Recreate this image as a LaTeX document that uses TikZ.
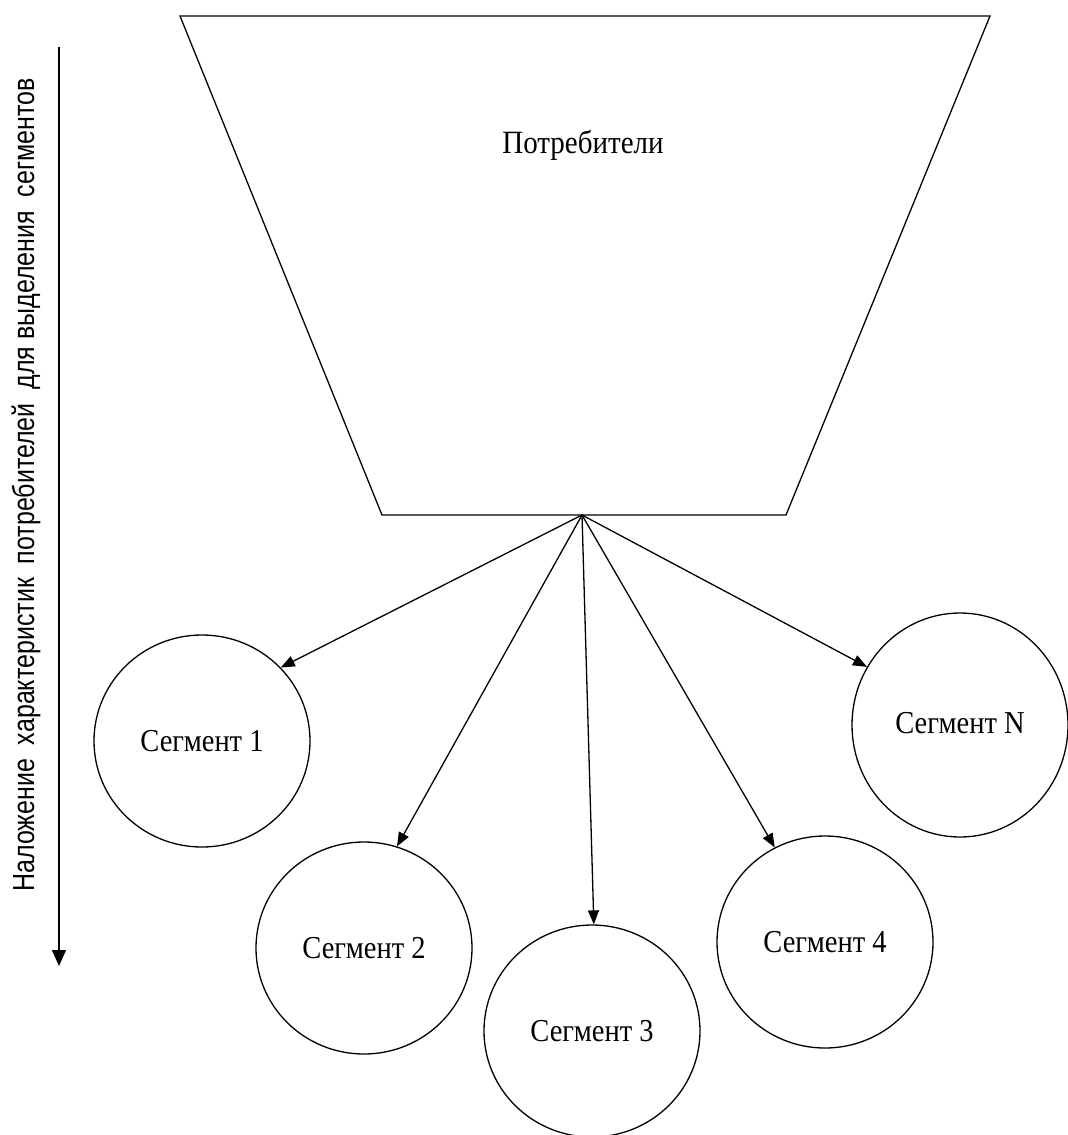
\documentclass[tikz,border=0pt]{standalone}
\usepackage{fontspec}
\setmainfont{Liberation Serif}
\newfontfamily\sansf{Liberation Sans}
\usetikzlibrary{arrows.meta,shapes.geometric}
% taller-than-wide lettering used throughout the drawing
\newcommand{\tallserif}[1]{\scalebox{1}[1.12]{#1}}
\newcommand{\tallsans}[1]{\scalebox{1}[1.22]{#1}}
\begin{document}
\begin{tikzpicture}[x=1pt,y=-1pt,
  line width=1.3pt,
  seg/.style={draw, ellipse, minimum width=216pt, minimum height=212pt, inner sep=0pt,
              font=\fontsize{28.5}{32}\selectfont},
  arr/.style={-{Triangle[length=14pt,width=11pt]}, line width=1.3pt}]
\useasboundingbox (0,0) rectangle (1068,1135);

% funnel of consumers
\coordinate (tl) at (180,16);
\coordinate (tr) at (990,16);
\coordinate (br) at (786,515);
\coordinate (bl) at (382,515);
\coordinate (apex) at (582,515);
\draw (tl) -- (tr) -- (br) -- (bl) -- cycle;
\node[font=\fontsize{29}{32}\selectfont] (cons) at (583,145) {\tallserif{Потребители}};

% segments
\node[seg] (s1) at (202,741) {\tallserif{Сегмент 1}};
\node[seg] (s2) at (364,948) {\tallserif{Сегмент 2}};
\node[seg] (s3) at (592,1031) {\tallserif{Сегмент 3}};
\node[seg] (s4) at (825,942) {\tallserif{Сегмент 4}};
\node[seg, minimum height=224pt] (sn) at (960,725) {\raisebox{4pt}{\tallserif{Сегмент N}}};

\draw[arr] (apex) -- (s1.43);
\draw[arr] (apex) -- (s2.72);
\draw[arr] (apex) -- (s3.89);
\draw[arr] (apex) -- (s4.118);
\draw[arr] (apex) -- (sn.148);

% vertical axis
\coordinate (atop) at (59,47);
\coordinate (abot) at (59,966);
\draw[-{Triangle[length=16pt,width=14pt]}] (atop) -- (abot);
\node[rotate=90, font=\sansf\fontsize{25}{28}\selectfont] (axis) at (26,485)
  {\tallsans{Наложение\ \ характеристик\ \ потребителей\ \ для выделения\ \ сегментов}};
\end{tikzpicture}
\end{document}
